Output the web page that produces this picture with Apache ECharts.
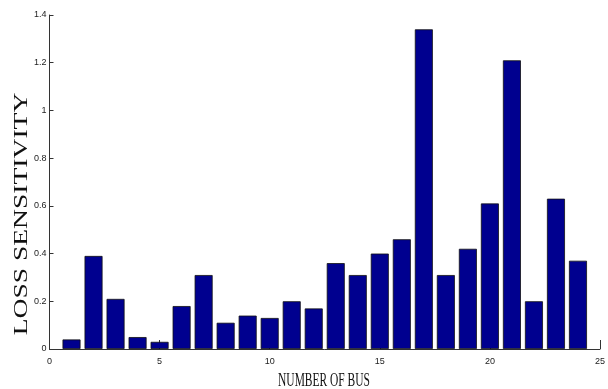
<!DOCTYPE html>
<html>
<head>
<meta charset="utf-8">
<script src="https://cdn.jsdelivr.net/npm/echarts@6/dist/echarts.min.js"></script>
<style>
  html, body { margin: 0; padding: 0; background: #fff; }
  #chart { width: 608px; height: 389px; }
</style>
</head>
<body>
<div id="chart"></div>
<script>
// Bus numbers and their loss sensitivity
const busNumbers = [1, 2, 3, 4, 5, 6, 7, 8, 9, 10, 11, 12, 13, 14, 15, 16, 17, 18, 19, 20, 21, 22, 23, 24];
const lossSensitivity = [0.04, 0.39, 0.21, 0.05, 0.03, 0.18, 0.31, 0.11, 0.14, 0.13, 0.20, 0.17,
                         0.36, 0.31, 0.40, 0.46, 1.34, 0.31, 0.42, 0.61, 1.21, 0.20, 0.63, 0.37];
const xTicks = [0, 5, 10, 15, 20, 25];
const yTicks = [0, 0.2, 0.4, 0.6, 0.8, 1, 1.2, 1.4];

const chart = echarts.init(document.getElementById('chart'), null, { renderer: 'canvas' });

const tickFont = '"Liberation Sans Narrow", "Liberation Sans", Arial, sans-serif';
const titleFont = '"Liberation Serif", "Times New Roman", serif';

chart.setOption({
  animation: false,
  backgroundColor: '#fff',
  grid: { left: 49.5, right: 7, top: 15, bottom: 40, containLabel: false },
  xAxis: {
    type: 'value',
    min: xTicks[0],
    max: xTicks[xTicks.length - 1],
    interval: xTicks[1] - xTicks[0],
    axisLine: { show: true, lineStyle: { color: '#333', width: 1 } },
    axisTick: { show: true, inside: true, length: 9, lineStyle: { color: '#333' } },
    axisLabel: { color: '#222', fontFamily: tickFont, fontSize: 9, margin: 8 },
    splitLine: { show: false }
  },
  yAxis: {
    type: 'value',
    min: yTicks[0],
    max: yTicks[yTicks.length - 1],
    interval: 0.2,
    axisLine: { show: true, lineStyle: { color: '#333', width: 1 } },
    axisTick: { show: true, inside: true, length: 4, lineStyle: { color: '#333' } },
    axisLabel: {
      color: '#222', fontFamily: tickFont, fontSize: 9, margin: 3,
      formatter: v => String(Math.round(v * 10) / 10)
    },
    splitLine: { show: false }
  },
  series: [{
    type: 'bar',
    data: busNumbers.map((b, i) => [b, lossSensitivity[i]]),
    barWidth: 18,
    itemStyle: { color: '#00008F', borderColor: '#111', borderWidth: 0.8 }
  }],
  graphic: [
    {
      type: 'text',
      x: 22, y: 214,
      rotation: Math.PI / 2,
      scaleX: 1.45, scaleY: 1,
      style: {
        text: 'LOSS SENSITIVITY',
        font: '19px ' + titleFont,
        fill: '#111',
        align: 'center', verticalAlign: 'middle',
        textAlign: 'center', textVerticalAlign: 'middle'
      }
    },
    {
      type: 'text',
      x: 324, y: 381,
      scaleX: 0.82, scaleY: 1.4,
      style: {
        text: 'NUMBER OF BUS',
        font: '14px ' + titleFont,
        fill: '#111',
        align: 'center', verticalAlign: 'middle',
        textAlign: 'center', textVerticalAlign: 'middle'
      }
    }
  ]
});
</script>
</body>
</html>
